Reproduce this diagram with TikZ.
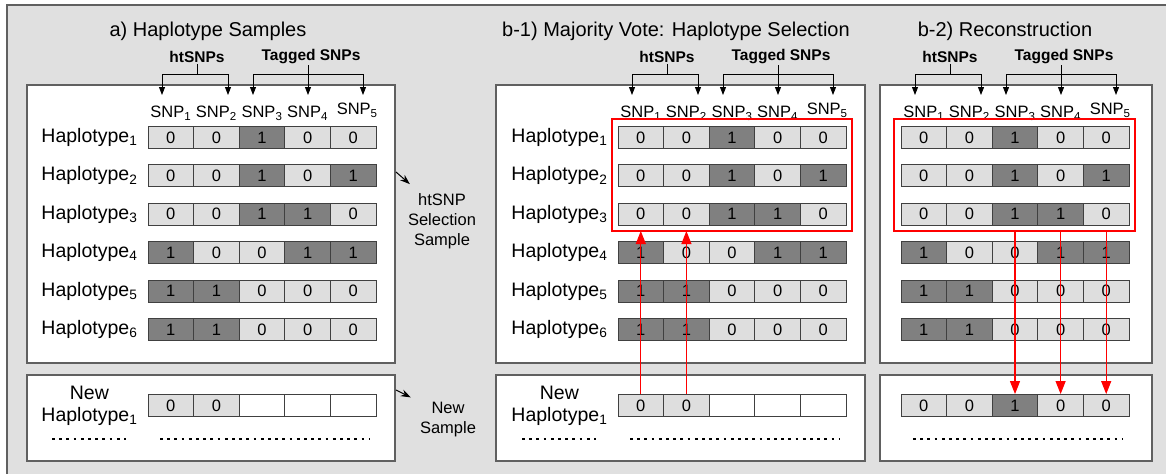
\documentclass[tikz,border=0pt]{standalone}
\usepackage{fontspec}
\setmainfont{Liberation Sans}
\usetikzlibrary{positioning,arrows.meta}
\definecolor{bggray}{HTML}{E0E0E0}
\definecolor{framegray}{HTML}{606060}
\definecolor{cellfill0}{HTML}{DEDEDE}
\definecolor{cellfill1}{HTML}{808080}
\definecolor{cellfill2}{HTML}{FFFFFF}
\tikzset{
  cell/.style={draw=black!75,fill=cellfill#1,line width=0.9pt,minimum width=45.6pt,
    minimum height=22pt,inner sep=0pt,font=\fontsize{16.5}{16.5}\selectfont},
  wbox/.style={draw=framegray,fill=white,line width=1.2pt},
  title/.style={font=\fontsize{20}{24}\selectfont},
  hlabel/.style={inner sep=0pt,font=\fontsize{19.5}{22}\selectfont},
  snp/.style={inner sep=1pt,font=\fontsize{16.5}{16.5}\selectfont},
  grp/.style={inner sep=1pt,font=\fontsize{15.5}{15.5}\selectfont\bfseries},
  brk/.style={line width=0.9pt},
  brkarr/.style={brk,-{Triangle[length=8pt,width=6pt]}},
  redbox/.style={draw=red,line width=2.4pt},
  redarr/.style={red,line width=1.1pt,-{Triangle[length=13pt,width=10pt]}},
  note/.style={align=center,inner sep=1pt,font=\fontsize{16.5}{20}\selectfont},
  sarr/.style={line width=1pt,-{Stealth[length=10pt,width=7pt]}},
  dots/.style={line width=2.8pt,dash pattern=on 2.8pt off 4.4pt}
}
\begin{document}
\begin{tikzpicture}[x=1pt,y=-1pt]
  \useasboundingbox (0,0) rectangle (1166,474);
  % background
  \fill[bggray] (7,5) rectangle (1166,474);
  \draw[framegray,line width=1.5pt] (7,474) -- (7,5) -- (1166,5);
  % the white boxes
  \foreach \l/\r in {27/395,496/865,880/1152}
  {
    \draw[wbox] (\l,85) rectangle (\r,363);
    \draw[wbox] (\l,375) rectangle (\r,461);
  }
  % titles
  \node[title] (ta) at (208,31) {a) Haplotype Samples};
  \node[title] (tb) at (676,31) {b-1) Majority Vote: Haplotype Selection};
  \node[title] (tc) at (1005,31) {b-2) Reconstruction};
  %% the grids, the column heads and the brackets
  \foreach \x/\p in {148/a,618/b,901/c}
  {
    \foreach \vals [count=\i] in {{0,0,1,0,0},{0,0,1,0,1},{0,0,1,1,0},{1,0,0,1,1},{1,1,0,0,0},{1,1,0,0,0}}
      \foreach \v [count=\j] in \vals
        \node[cell=\v] (\p\i\j) at ({\x+45.6*(\j-0.5)},{137.5+38.4*(\i-1)}) {\v};
    \foreach \j in {1,...,5}
      \node[snp] (\p s\j) at ({\x+45.6*(\j-0.5)+4*(\j==5)},{113-3*(\j==5)}) {SNP\textsubscript{\j}};
    \node[grp] (\p ht) at (\x+49,57) {htSNPs};
    \node[grp] (\p tg) at (\x+163,57) {Tagged SNPs};
    \foreach \k/\d in {1/14,2/80,3/105,4/160,5/215}
      \coordinate (\p t\k) at (\x+\d,95);
    \coordinate (\p hb) at (\x+49,74);
    \coordinate (\p tb) at (\x+160,74);
    \draw[brk] (\p ht) -- (\p hb);
    \draw[brkarr] (\p hb) -| (\p t1);
    \draw[brkarr] (\p hb) -| (\p t2);
    \draw[brkarr] (\p tg.south -| \p t4) -- (\p t4);
    \draw[brkarr] (\p tb) -| (\p t3);
    \draw[brkarr] (\p tb) -| (\p t5);
    % dots under the new sample
    \draw[dots] (\x+12,439) -- (\x+222,439);
  }
  % row labels
  \foreach \p in {a,b}
  {
    \foreach \i in {1,...,6}
      \node[hlabel,left=10pt of \p\i1] (\p h\i) {Haplotype\textsubscript{\i}};
  }
  %% the new sample
  \foreach \x/\p in {148/a,618/b}
  {
    \foreach \v [count=\j] in {0,0,2,2,2}
      \node[cell=\v] (\p n\j) at ({\x+45.6*(\j-0.5)},405.5) {\ifnum\v<2 \v\fi};
    \node[hlabel,align=center,left=10pt of \p n1] (\p nl) {New\\Haplotype\textsubscript{1}};
    \draw[dots] (\x-96,439) -- (\x-22,439);
  }
  \foreach \v [count=\j] in {0,0,1,0,0}
    \node[cell=\v] (cn\j) at ({901+45.6*(\j-0.5)},405.5) {\v};
  % selected haplotypes
  \draw[redbox] (612,119) rectangle (852,231);
  \draw[redbox] (894,119) rectangle (1135,231);
  \coordinate (rb) at (0,231);
  \foreach \j in {1,2}
    \draw[redarr] (bn\j.north) -- (bn\j.north |- rb);
  \foreach \j in {3,4,5}
    \draw[redarr] (cn\j.north |- rb) -- (cn\j.north);
  % side notes
  \node[note] (sel) at (442,221) {htSNP\\Selection\\Sample};
  \node[note] (news) at (448,420) {New\\Sample};
  \coordinate (selfrom) at (396,172);
  \coordinate (newfrom) at (396,390);
  \draw[sarr] (selfrom) -- ([shift={(3,-8)}]sel.north west);
  \draw[sarr] (newfrom) -- ([shift={(-8,-4)}]news.north west);
\end{tikzpicture}
\end{document}
